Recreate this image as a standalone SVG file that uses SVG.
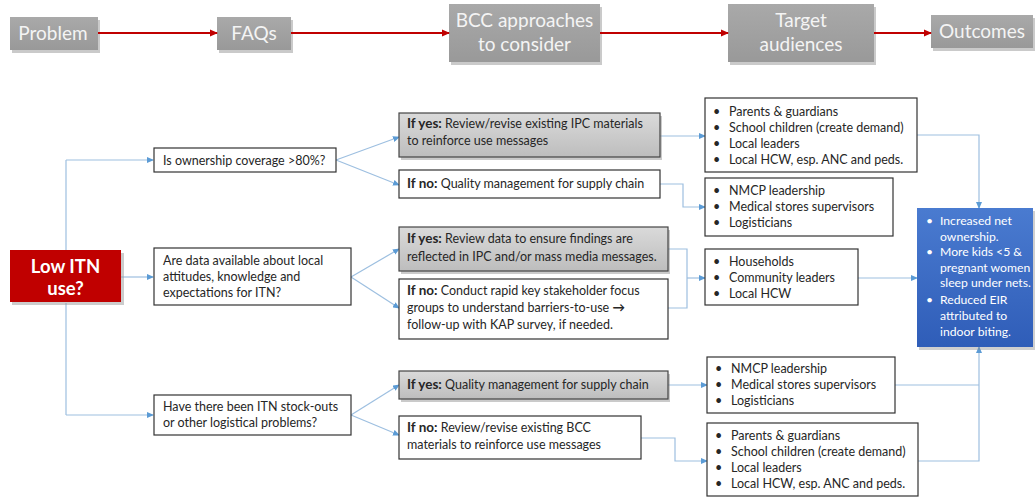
<svg xmlns="http://www.w3.org/2000/svg" width="1036" height="498" viewBox="0 0 1036 498">
<style>
text{font-family:Lato,"Liberation Sans",sans-serif;}
.htxt{fill:#f4f4f4;font-size:19px;text-anchor:middle;}
.shadow{fill:#8a8a8a;opacity:0.45;}
.q{fill:#fff;stroke:#333;stroke-width:1.2;}
.ay{fill:url(#gg);stroke:#444;stroke-width:1.2;}
.an{fill:#fff;stroke:#333;stroke-width:1.2;}
.t{fill:#262626;font-size:12.5px;}
.b{font-weight:bold;font-size:13.5px;}
.au{fill:#fff;stroke:#333;stroke-width:1.2;}
.ot{fill:#fff;font-size:12.2px;}
.red{stroke:#c00000;stroke-width:2;fill:none;marker-end:url(#ra);}
.c{stroke:#9dbfe0;stroke-width:1.2;fill:none;}
.ca{stroke:#9dbfe0;stroke-width:1.2;fill:none;marker-end:url(#ba);}
</style>
<defs>
<linearGradient id="gg" x1="0" y1="0" x2="0" y2="1"><stop offset="0" stop-color="#dadada"/><stop offset="1" stop-color="#bdbdbd"/></linearGradient>
<linearGradient id="bg" x1="0" y1="0" x2="0" y2="1"><stop offset="0" stop-color="#4a7bd0"/><stop offset="1" stop-color="#2f5db8"/></linearGradient>
<linearGradient id="hg" x1="0" y1="0" x2="0" y2="1"><stop offset="0" stop-color="#a9a9a9"/><stop offset="1" stop-color="#999"/></linearGradient>
<marker id="ra" markerWidth="8" markerHeight="8" refX="7" refY="4" orient="auto" markerUnits="userSpaceOnUse"><path d="M0,0.5 L8,4 L0,7.5 z" fill="#c00000"/></marker>
<marker id="ba" markerWidth="7" markerHeight="6" refX="6" refY="3" orient="auto" markerUnits="userSpaceOnUse"><path d="M0,0 L7,3 L0,6 z" fill="#5b9bd5"/></marker>
</defs>

<g id="header">
<g id="h-problem"><rect class="shadow" x="12" y="20" width="88" height="33"/><rect x="10" y="17" width="88" height="33" fill="url(#hg)"/><text class="htxt" x="53" y="40">Problem</text></g>
<g id="h-faqs"><rect class="shadow" x="219" y="20" width="74" height="33"/><rect x="217" y="17" width="74" height="33" fill="url(#hg)"/><text class="htxt" x="254" y="40">FAQs</text></g>
<g id="h-bcc"><rect class="shadow" x="451" y="7" width="151" height="58"/><rect x="449" y="4" width="151" height="58" fill="url(#hg)"/><text class="htxt" x="524.5" y="27">BCC approaches</text><text class="htxt" x="524.5" y="51">to consider</text></g>
<g id="h-target"><rect class="shadow" x="730" y="7" width="146" height="58"/><rect x="728" y="4" width="146" height="58" fill="url(#hg)"/><text class="htxt" x="801" y="27">Target</text><text class="htxt" x="801" y="51">audiences</text></g>
<g id="h-outcomes"><rect class="shadow" x="933" y="18" width="102" height="33"/><rect x="931" y="15" width="102" height="33" fill="url(#hg)"/><text class="htxt" x="982" y="38">Outcomes</text></g>
</g>

<g id="connectors">
<line class="red" x1="98" y1="33" x2="217" y2="33"/>
<line class="red" x1="291" y1="33" x2="449" y2="33"/>
<line class="red" x1="600" y1="33" x2="728" y2="33"/>
<line class="red" x1="874" y1="33" x2="931" y2="33"/>

<path class="c" d="M66,250 V160"/>
<path class="ca" d="M66,160 H153"/>
<path class="ca" d="M121,277 H153"/>
<path class="c" d="M66,303 V415"/>
<path class="ca" d="M66,415 H153"/>

<path class="ca" d="M336,160 L399,137"/>
<path class="ca" d="M336,160 L399,185"/>
<path class="ca" d="M351,277 L399,249"/>
<path class="ca" d="M351,277 L399,308"/>
<path class="ca" d="M351,415 L399,385"/>
<path class="ca" d="M351,415 L399,435"/>

<path class="ca" d="M660,136 H705"/>
<path class="ca" d="M660,184 H683 V207 H705"/>
<path class="c" d="M668,249 H687 V308 H668"/>
<path class="ca" d="M687,278 H705"/>
<path class="ca" d="M668,385 H707"/>
<path class="ca" d="M641,438 H675 V461 H707"/>

<path class="ca" d="M917,135 H979 V208"/>
<path class="ca" d="M858,278 H917"/>
<path class="c" d="M895,385 H979"/>
<path class="ca" d="M918,461 H979 V347"/>
</g>

<g id="low-itn"><rect x="12" y="253" width="112" height="52" fill="#999" opacity="0.5"/><rect x="10" y="250" width="111" height="52" fill="#c00000"/><text x="65.5" y="273" fill="#fff" font-size="18.5" font-weight="bold" text-anchor="middle">Low ITN</text><text x="65.5" y="295" fill="#fff" font-size="18.5" font-weight="bold" text-anchor="middle">use?</text></g>

<g id="q1"><rect class="q" x="154" y="148" width="182" height="24"/><text class="t" x="163" y="164.5">Is ownership coverage &gt;80%?</text></g>
<g id="q2"><rect class="q" x="154" y="248" width="197" height="57"/><text class="t" x="163" y="265">Are data available about local</text><text class="t" x="163" y="281">attitudes, knowledge and</text><text class="t" x="163" y="297">expectations for ITN?</text></g>
<g id="q3"><rect class="q" x="154" y="395" width="197" height="40"/><text class="t" x="163" y="411">Have there been ITN stock-outs</text><text class="t" x="163" y="427">or other logistical problems?</text></g>

<g id="a1-yes"><rect class="shadow" x="401" y="116" width="261" height="44"/><rect class="ay" x="399" y="113" width="261" height="44"/><text class="t" x="407" y="128"><tspan class="b">If yes:</tspan> Review/revise existing IPC materials</text><text class="t" x="407" y="145">to reinforce use messages</text></g>
<g id="a1-no"><rect class="an" x="399" y="170" width="261" height="28"/><text class="t" x="407" y="188"><tspan class="b">If no:</tspan> Quality management for supply chain</text></g>
<g id="a2-yes"><rect class="shadow" x="401" y="230" width="269" height="44"/><rect class="ay" x="399" y="227" width="269" height="44"/><text class="t" x="407" y="243"><tspan class="b">If yes:</tspan> Review data to ensure findings are</text><text class="t" x="407" y="261">reflected in IPC and/or mass media messages.</text></g>
<g id="a2-no"><rect class="an" x="399" y="279" width="269" height="60"/><text class="t" x="407" y="295"><tspan class="b">If no:</tspan> Conduct rapid key stakeholder focus</text><text class="t" x="407" y="312">groups to understand barriers-to-use <tspan font-weight="bold">→</tspan></text><text class="t" x="407" y="329">follow-up with KAP survey, if needed.</text></g>
<g id="a3-yes"><rect class="shadow" x="401" y="374" width="269" height="28"/><rect class="ay" x="399" y="371" width="269" height="28"/><text class="t" x="407" y="389"><tspan class="b">If yes:</tspan> Quality management for supply chain</text></g>
<g id="a3-no"><rect class="an" x="399" y="416" width="242" height="43"/><text class="t" x="407" y="432"><tspan class="b">If no:</tspan> Review/revise existing BCC</text><text class="t" x="407" y="449">materials to reinforce use messages</text></g>

<g id="aud1"><rect class="au" x="705" y="98" width="212" height="74"/>
<text class="t" x="713" y="116">•</text><text class="t" x="729" y="116">Parents &amp; guardians</text>
<text class="t" x="713" y="132">•</text><text class="t" x="729" y="132">School children (create demand)</text>
<text class="t" x="713" y="148">•</text><text class="t" x="729" y="148">Local leaders</text>
<text class="t" x="713" y="164">•</text><text class="t" x="729" y="164">Local HCW, esp. ANC and peds.</text></g>
<g id="aud2"><rect class="au" x="705" y="178" width="188" height="58"/>
<text class="t" x="713" y="195">•</text><text class="t" x="729" y="195">NMCP leadership</text>
<text class="t" x="713" y="211">•</text><text class="t" x="729" y="211">Medical stores supervisors</text>
<text class="t" x="713" y="227">•</text><text class="t" x="729" y="227">Logisticians</text></g>
<g id="aud3"><rect class="au" x="705" y="249" width="153" height="56"/>
<text class="t" x="713" y="266">•</text><text class="t" x="729" y="266">Households</text>
<text class="t" x="713" y="282">•</text><text class="t" x="729" y="282">Community leaders</text>
<text class="t" x="713" y="298">•</text><text class="t" x="729" y="298">Local HCW</text></g>
<g id="aud4"><rect class="au" x="707" y="357" width="188" height="56"/>
<text class="t" x="715" y="373">•</text><text class="t" x="731" y="373">NMCP leadership</text>
<text class="t" x="715" y="389">•</text><text class="t" x="731" y="389">Medical stores supervisors</text>
<text class="t" x="715" y="405">•</text><text class="t" x="731" y="405">Logisticians</text></g>
<g id="aud5"><rect class="au" x="707" y="423" width="211" height="73"/>
<text class="t" x="715" y="440">•</text><text class="t" x="731" y="440">Parents &amp; guardians</text>
<text class="t" x="715" y="456">•</text><text class="t" x="731" y="456">School children (create demand)</text>
<text class="t" x="715" y="472">•</text><text class="t" x="731" y="472">Local leaders</text>
<text class="t" x="715" y="488">•</text><text class="t" x="731" y="488">Local HCW, esp. ANC and peds.</text></g>

<g id="outcome"><rect x="919" y="211" width="116" height="139" fill="#888" opacity="0.4"/><rect x="917" y="208" width="116" height="139" fill="url(#bg)"/>
<text class="ot" x="926" y="225">•</text><text class="ot" x="940" y="225">Increased net</text>
<text class="ot" x="940" y="240.5">ownership.</text>
<text class="ot" x="926" y="256">•</text><text class="ot" x="940" y="256">More kids &lt;5 &amp;</text>
<text class="ot" x="940" y="271.5">pregnant women</text>
<text class="ot" x="940" y="287">sleep under nets.</text>
<text class="ot" x="926" y="304">•</text><text class="ot" x="940" y="304">Reduced EIR</text>
<text class="ot" x="940" y="320">attributed to</text>
<text class="ot" x="940" y="336">indoor biting.</text></g>
</svg>
